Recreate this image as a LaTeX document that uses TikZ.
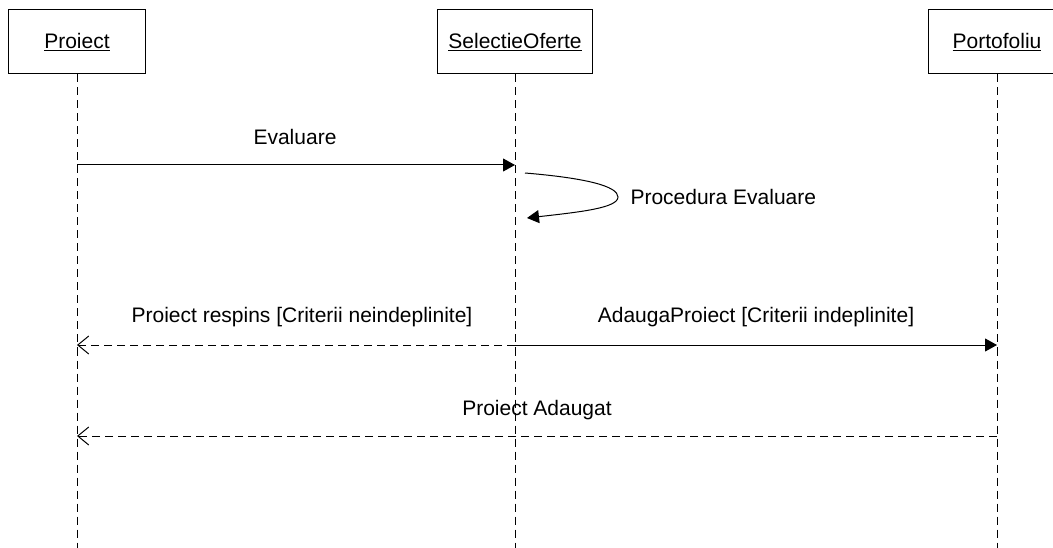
\documentclass[tikz,border=0pt]{standalone}
\usepackage{fontspec}
\setmainfont{Liberation Sans}
\usetikzlibrary{arrows.meta}

\begin{document}
\begin{tikzpicture}[x=1pt, y=-1pt, line width=1pt,
    font=\fontsize{21}{25}\selectfont,
    obj/.style={draw, minimum width=137pt, minimum height=64pt, inner sep=0pt},
    life/.style={dash pattern=on 8pt off 5pt},
    call/.style={-{Triangle[length=12pt,width=13pt]}},
    reply/.style={dash pattern=on 8pt off 5pt, -{Straight Barb[length=11pt,width=18pt]}},
    lbl/.style={inner sep=0pt}]
  \useasboundingbox (0,0) rectangle (1053,548);
  \clip (0,0) rectangle (1053,548);
  % obiecte
  \node[obj] (proiect) at (77,42) {\underline{Proiect}};
  \node[obj, minimum width=155pt] (selectie) at (515,42) {\underline{SelectieOferte}};
  \node[obj] (portofoliu) at (997,42) {\underline{Portofoliu}};
  % linii de viata
  \coordinate (proiectEnd) at (77,548);
  \coordinate (selectieEnd) at (515,548);
  \coordinate (portofoliuEnd) at (997,548);
  \draw[life] (proiect.south) -- (proiectEnd);
  \draw[life] (selectie.south) -- (selectieEnd);
  \draw[life] (portofoliu.south) -- (portofoliuEnd);
  % mesaje
  \coordinate (m1a) at (77,165);
  \coordinate (m1b) at (515,165);
  \draw[call] (m1a) -- (m1b);
  \node[lbl] (m1) at (295,137) {Evaluare};
  \coordinate (s1a) at (525,173);
  \coordinate (s1b) at (527,218);
  \coordinate (s1c) at (618,197);
  \draw[call] (s1a) .. controls (585,178) and (618,186) .. (s1c)
    .. controls (618,208) and (580,212) .. (s1b);
  \node[lbl, anchor=west] (s1) at (630,197) {Procedura Evaluare};
  \coordinate (m2a) at (515,345);
  \coordinate (m2b) at (77,345);
  \draw[reply] (m2a) -- (m2b);
  \node[lbl] (m2) at (302,317) {Proiect respins [Criterii neindeplinite]};
  \coordinate (m3b) at (997,345);
  \draw[call] (m2a) -- (m3b);
  \node[lbl] (m3) at (756,317) {AdaugaProiect [Criterii indeplinite]};
  \coordinate (m4a) at (997,436);
  \coordinate (m4b) at (77,436);
  \draw[reply] (m4a) -- (m4b);
  \node[lbl] (m4) at (537,410) {Proiect Adaugat};
\end{tikzpicture}
\end{document}
